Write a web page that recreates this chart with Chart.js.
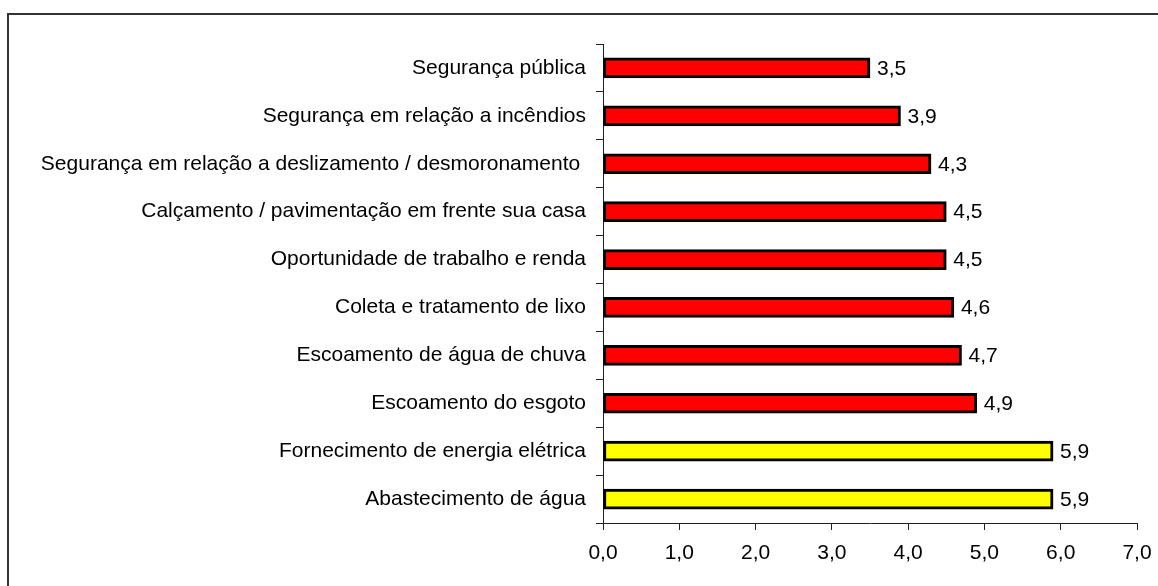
<!DOCTYPE html>
<html lang="pt-BR">
<head>
  <meta charset="UTF-8">
  <title>Avaliação dos serviços</title>
  <script src="https://cdn.jsdelivr.net/npm/chart.js"></script>
  <style>
    * { margin: 0; padding: 0; box-sizing: border-box; }
    body { background: #ffffff; width: 1158px; height: 586px; overflow: hidden; }
    canvas { display: block; }
  </style>
</head>
<body>
  <canvas id="chart" width="1158" height="586"></canvas>
  <script>
    const categories = [
      'Segurança pública',
      'Segurança em relação a incêndios',
      'Segurança em relação a deslizamento / desmoronamento ',
      'Calçamento / pavimentação em frente sua casa',
      'Oportunidade de trabalho e renda',
      'Coleta e tratamento de lixo',
      'Escoamento de água de chuva',
      'Escoamento do esgoto',
      'Fornecimento de energia elétrica',
      'Abastecimento de água'
    ];
    const notas = [3.5, 3.9, 4.3, 4.5, 4.5, 4.6, 4.7, 4.9, 5.9, 5.9];
    const xTicks = [0, 1, 2, 3, 4, 5, 6, 7];

    const fmt = v => Number(v).toFixed(1).replace('.', ',');
    const FONT = '"Liberation Sans", Arial, sans-serif';

    // moldura em volta do gráfico
    const frame = {
      id: 'frame',
      afterDraw(chart) {
        const ctx = chart.ctx;
        ctx.save();
        ctx.strokeStyle = '#333333';
        ctx.lineWidth = 2;
        ctx.strokeRect(8, 14, 1200, 640);
        ctx.restore();
      }
    };

    // rótulos de valor à direita das barras
    const valueLabels = {
      id: 'valueLabels',
      afterDatasetsDraw(chart) {
        const ctx = chart.ctx;
        const meta = chart.getDatasetMeta(0);
        ctx.save();
        ctx.font = '21px ' + FONT;
        ctx.fillStyle = '#000000';
        ctx.textBaseline = 'middle';
        ctx.textAlign = 'left';
        meta.data.forEach((bar, i) => {
          ctx.fillText(fmt(notas[i]), bar.x + 7, bar.y + 1);
        });
        ctx.restore();
      }
    };

    Chart.defaults.font.family = FONT;
    Chart.defaults.font.size = 21;
    Chart.defaults.color = '#000000';

    new Chart(document.getElementById('chart'), {
      type: 'bar',
      data: {
        labels: categories,
        datasets: [{
          data: notas,
          backgroundColor: c => (c.raw >= 5 ? '#FFFF00' : '#FF0000'),
          borderColor: '#000000',
          borderWidth: 3,
          borderSkipped: false,
          barThickness: 20
        }]
      },
      options: {
        indexAxis: 'y',
        responsive: false,
        animation: false,
        layout: { padding: { top: 44, right: 21, left: 0, bottom: 0 } },
        plugins: {
          legend: { display: false },
          tooltip: { enabled: false }
        },
        scales: {
          x: {
            min: 0,
            max: 7,
            afterBuildTicks: s => { s.ticks = xTicks.map(v => ({ value: v })); },
            afterFit: s => { s.height = 63; s.paddingLeft = 0; s.paddingRight = 0; },
            ticks: { callback: v => fmt(v), padding: 11, maxRotation: 0 },
            border: { color: '#222222', width: 1 },
            grid: { drawOnChartArea: false, tickLength: 7, color: '#222222' }
          },
          y: {
            afterFit: s => { s.width = 603; },
            ticks: { padding: 10, autoSkip: false },
            border: { color: '#222222', width: 1 },
            grid: { drawOnChartArea: false, tickLength: 7, color: '#222222', offset: true }
          }
        }
      },
      plugins: [frame, valueLabels]
    });
  </script>
</body>
</html>
